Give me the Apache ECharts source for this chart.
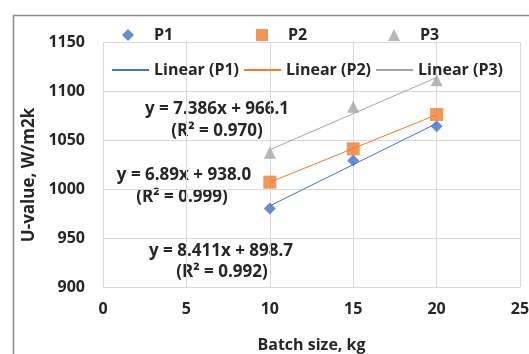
<!DOCTYPE html>
<html>
<head>
<meta charset="utf-8">
<title>U-value vs batch size</title>
<script src="https://cdn.jsdelivr.net/npm/echarts@6/dist/echarts.min.js"></script>
<style>
html, body { margin: 0; padding: 0; background: #fff; }
#main { width: 529px; height: 354px; }
</style>
</head>
<body>
<div id="main"></div>
<script>
// batch size (kg) and measured U-values
var batchSize = [10, 15, 20];
var p1 = [980, 1029, 1064];
var p2 = [1007, 1041, 1076];
var p3 = [1037, 1084, 1111];

// trendline end points (from the fitted equations)
var trendX = [10, 20];
var trendP1 = [982.8, 1066.9];
var trendP2 = [1006.9, 1075.8];
var trendP3 = [1040.0, 1113.8];

var fitLabels = [
    ['y = 7.386x + 966.1', '(R² = 0.970)'],
    ['y = 6.89x + 938.0', '(R² = 0.999)'],
    ['y = 8.411x + 898.7', '(R² = 0.992)']
];

var colors = ['#4472C4', '#ED7D31', '#A5A5A5'];
var font = '"Open Sans"';
var txt = '#262626';

function pairs(xs, ys) {
    var out = [];
    for (var i = 0; i < xs.length; i++) out.push([xs[i], ys[i]]);
    return out;
}

function pointSeries(name, data, symbol, color, size) {
    return {
        name: name,
        type: 'scatter',
        data: pairs(batchSize, data),
        symbol: symbol,
        symbolSize: size,
        itemStyle: { color: color },
        z: 5
    };
}

function trendSeries(name, data, color) {
    return {
        name: name,
        type: 'line',
        data: pairs(trendX, data),
        symbol: 'none',
        lineStyle: { color: color, width: 1 },
        itemStyle: { color: color },
        z: 3
    };
}

// one legend per entry so the spacing matches the excel layout
function markerLegend(name, left) {
    return {
        data: [name], left: left, top: 22,
        itemWidth: 12, itemHeight: 12,
        textStyle: { fontFamily: font, fontWeight: 'bold', fontSize: 16, color: txt,
                     padding: [0, 0, 0, 15] }
    };
}
function lineLegend(name, left) {
    return {
        data: [name], left: left, top: 57,
        itemWidth: 37, itemHeight: 12,
        itemStyle: { opacity: 0 },
        textStyle: { fontFamily: font, fontWeight: 'bold', fontSize: 16, color: txt }
    };
}

function annot(x, y, text) {
    return {
        type: 'text', x: x, y: y, silent: true,
        style: {
            text: text, align: 'center', verticalAlign: 'middle',
            font: 'bold 17px ' + font, fill: txt
        }
    };
}

var chart = echarts.init(document.getElementById('main'));
chart.setOption({
    animation: false,
    textStyle: { fontFamily: font },
    grid: { left: 103, right: 9, top: 42, bottom: 67, outerBoundsMode: 'none' },
    legend: [
        markerLegend('P1', 117),
        markerLegend('P2', 251),
        markerLegend('P3', 383),
        lineLegend('Linear (P1)', 106),
        lineLegend('Linear (P2)', 238),
        lineLegend('Linear (P3)', 370)
    ],
    xAxis: {
        type: 'value', min: 0, max: 25, interval: 5,
        name: 'Batch size, kg', nameLocation: 'middle', nameGap: 50,
        nameTextStyle: { fontFamily: font, fontWeight: 'bold', fontSize: 16, color: txt },
        axisLine: { show: false }, axisTick: { show: false },
        axisLabel: { margin: 14, fontFamily: font, fontWeight: 'bold', fontSize: 16, color: txt },
        splitLine: { show: true, lineStyle: { color: '#d9d9d9', width: 1 } }
    },
    yAxis: {
        type: 'value', min: 900, max: 1150, interval: 50,
        name: 'U-value, W/m2k', nameLocation: 'middle', nameGap: 63, nameRotate: 90,
        nameTextStyle: { fontFamily: font, fontWeight: 'bold', fontSize: 17, color: txt,
                         padding: [0, 21, 0, 0] },
        axisLine: { show: false }, axisTick: { show: false },
        axisLabel: { margin: 18, fontFamily: font, fontWeight: 'bold', fontSize: 16, color: txt,
                     formatter: function (v) { return String(v); } },
        splitLine: { show: true, lineStyle: { color: '#d9d9d9', width: 1 } }
    },
    graphic: [
        {
            type: 'rect', left: 11, top: 13, silent: true,
            shape: { x: 0, y: 0, width: 600, height: 400 },
            style: { fill: 'none', stroke: '#8c8c8c', lineWidth: 1.5 }
        },
        annot(217, 109, fitLabels[0][0]),
        annot(217, 131, fitLabels[0][1]),
        annot(184, 175, fitLabels[1][0]),
        annot(182, 197, fitLabels[1][1]),
        annot(221, 251, fitLabels[2][0]),
        annot(222, 272, fitLabels[2][1])
    ],
    series: [
        trendSeries('Linear (P1)', trendP1, colors[0]),
        trendSeries('Linear (P2)', trendP2, colors[1]),
        trendSeries('Linear (P3)', trendP3, colors[2]),
        pointSeries('P1', p1, 'diamond', colors[0], 12),
        pointSeries('P2', p2, 'rect', colors[1], 13),
        pointSeries('P3', p3, 'triangle', colors[2], 12)
    ]
});
</script>
</body>
</html>
